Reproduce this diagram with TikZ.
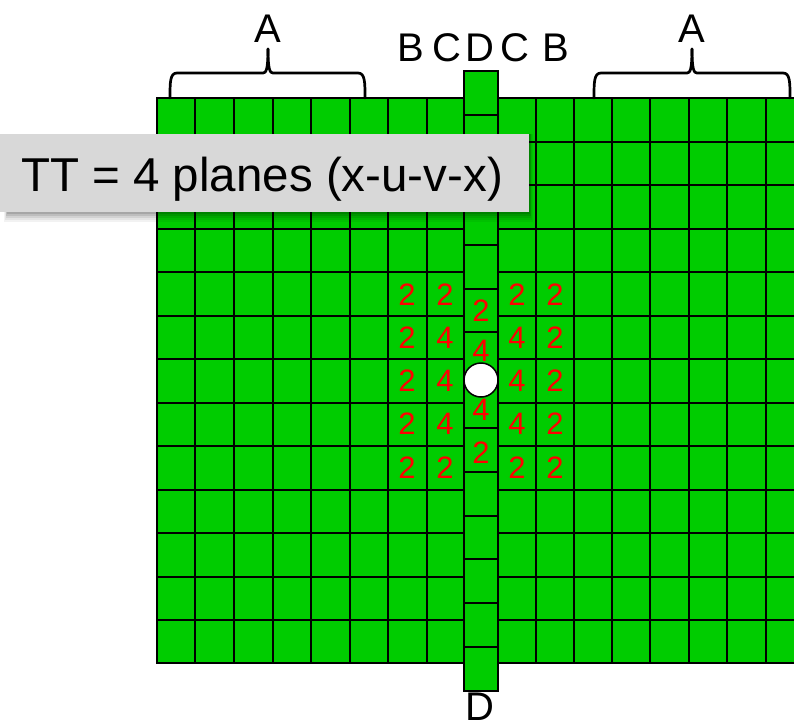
\documentclass[tikz,border=0pt]{standalone}
\usepackage{xcolor}
\usepackage{fontspec}
\setmainfont{Liberation Sans}
\usetikzlibrary{positioning}
\definecolor{cellgreen}{HTML}{00CC00}
\definecolor{boxgrey}{HTML}{D8D8D8}
\tikzset{
  gridline/.style={line width=2.7pt, line cap=rect},
  brace/.style={line width=2.7pt, line cap=round},
  letter/.style={font=\fontsize{40}{40}\selectfont, inner sep=0pt, text=black},
  hits/.style={font=\fontsize{31}{31}\selectfont, inner sep=0pt, text=red},
}
\begin{document}
\begin{tikzpicture}[x=1pt, y=-1pt]
        \useasboundingbox (0,0) rectangle (794,724);

        % chamber plane
        \fill[cellgreen] (157,98) rectangle (800,663);
        \foreach \x in {157,195,234,273,311,350,388,427,536,574,612,650,689,727,766}
          \draw[gridline] (\x,98) -- (\x,663);
        \foreach \y in {98,142,185,229,272,316,359,403,446,490,533,577,620,663}
          \draw[gridline] (157,\y) -- (800,\y);

        % centre strip
        \fill[cellgreen] (464,71) rectangle (498,691);
        \draw[gridline] (464,71) rectangle (498,691);
        \foreach \y in {115,158,202,245,289,332,428,472,516,559,603,647}
          \draw[gridline] (464,\y) -- (498,\y);

        % braces
        \foreach \l/\m/\r in {170/268/365, 594/692/790}{
          \draw[brace] (\l,98) .. controls (\l,82) and (\l,73) .. (\l+7,73) -- (\m-5,73)
            .. controls (\m-2,73) and (\m,70) .. (\m,49);
          \draw[brace] (\r,98) .. controls (\r,82) and (\r,73) .. (\r-7,73) -- (\m+5,73)
            .. controls (\m+2,73) and (\m,70) .. (\m,49);
        }

        % letters
        \node[letter] (a1) at (268,29) {A};
        \node[letter] (a2) at (692,29) {A};
        \node[letter] (b1) at (411,48) {B};
        \node[letter] (c1) at (447,48) {C};
        \node[letter] (d1) at (480,48) {D};
        \node[letter] (c2) at (515,48) {C};
        \node[letter] (b2) at (556,48) {B};
        \node[letter] (d2) at (480,707) {D};

        % hit counts
        \foreach \name/\x/\y/\n in {
            p11/407/295/2, p12/445/295/2, p14/517/295/2, p15/555/295/2,
            p21/407/338/2, p22/445/338/4, p24/517/338/4, p25/555/338/2,
            p31/407/381/2, p32/445/381/4, p34/517/381/4, p35/555/381/2,
            p41/407/424/2, p42/445/424/4, p44/517/424/4, p45/555/424/2,
            p51/407/468/2, p52/445/468/2, p54/517/468/2, p55/555/468/2,
            s1/481/311/2, s2/481/351/4, s3/481/410/4, s4/481/453/2}
          \node[hits] (\name) at (\x,\y) {\n};

        % beam hole
        \node[circle, draw=black, line width=1.5pt, fill=white, minimum size=34pt, inner sep=0pt] (hole) at (481,380) {};

        % title box
        \foreach \d/\o in {10/.05,8/.06,6/.08,4/.1,2/.12}
          \fill[black, opacity=\o] (8-\d*0.4,134) rectangle (529+\d*0.4,212+\d);
        \node[fill=boxgrey, minimum width=529pt, minimum height=78pt, anchor=north west, inner sep=0pt] (title) at (0,134) {};
        \node[font=\fontsize{47.5}{47.5}\selectfont, inner sep=0pt, anchor=base west] (titletext) at (21,191) {TT = 4 planes (x-u-v-x)};
\end{tikzpicture}
\end{document}
